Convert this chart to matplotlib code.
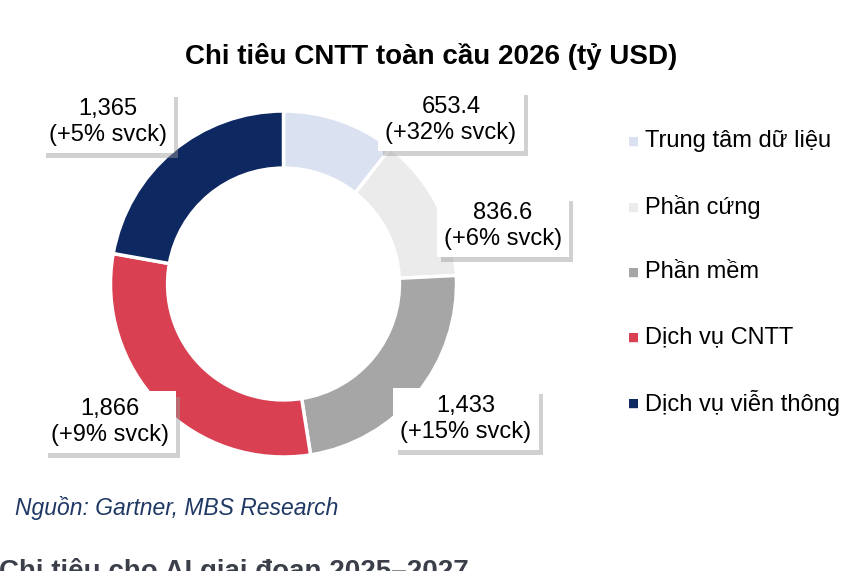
import matplotlib
matplotlib.use("Agg")
import matplotlib.pyplot as plt
from matplotlib import patheffects

plt.rcParams['font.family'] = ['Liberation Sans', 'DejaVu Sans']

categories = ["Trung tâm dữ liệu", "Phần cứng", "Phần mềm", "Dịch vụ CNTT", "Dịch vụ viễn thông"]
values = [653.4, 836.6, 1433, 1866, 1365]
value_labels = ["653.4", "836.6", "1,433", "1,866", "1,365"]
growth = ["+32%", "+6%", "+15%", "+9%", "+5%"]
colors = ["#dae1f0", "#ebebeb", "#a6a6a6", "#d94152", "#0e2862"]

# label box centres in figure pixels (from top-left)
label_pos = [(451, 120), (503, 226), (466, 419), (110, 422), (108, 122)]

W, H = 856, 571
fig = plt.figure(figsize=(W / 100, H / 100), dpi=100)

cx, cy, r = 283.5, 284, 173
ax = fig.add_axes([(cx - r) / W, (H - cy - r) / H, 2 * r / W, 2 * r / H])
wedges, _ = ax.pie(values, colors=colors, startangle=90, counterclock=False,
                   wedgeprops=dict(width=0.33, edgecolor="white", linewidth=2.5))
ax.set_xlim(-1, 1)
ax.set_ylim(-1, 1)
ax.set_aspect("equal")
ax.axis("off")

for (px, py), v, g in zip(label_pos, value_labels, growth):
    t = fig.text(px / W, 1 - py / H, f"{v}\n({g} svck)", ha="center", va="center",
                 fontsize=17, color="black", linespacing=1.2,
                 bbox=dict(boxstyle="square,pad=0.3", facecolor="white", edgecolor="none"))
    t.get_bbox_patch().set_path_effects([
        patheffects.withSimplePatchShadow(offset=(3, -4), shadow_rgbFace="#9a9a9a", alpha=0.45),
        patheffects.Normal()])

fig.text(431 / W, 1 - 56 / H, "Chi tiêu CNTT toàn cầu 2026 (tỷ USD)", ha="center", va="center",
         fontsize=20, fontweight="bold", color="black")

# legend
leg_y = [141, 207, 272, 337, 403]
for name, c, y in zip(categories, colors, leg_y):
    fig.text(634 / W, 1 - y / H, "■", ha="center", va="center", fontsize=8.5, color=c,
             family=["DejaVu Sans"])
    fig.text(645 / W, 1 - y / H, name, ha="left", va="center", fontsize=17, color="black")

fig.text(15 / W, 1 - 508 / H, "Nguồn: Gartner, MBS Research", ha="left", va="center",
         fontsize=16.5, style="italic", color="#1f3864")
fig.text(-1 / W, 1 - 579 / H, "Chi tiêu cho AI giai đoạn 2025–2027", ha="left", va="baseline",
         fontsize=20, fontweight="bold", color="#3a3f4a")

fig.savefig("out.png", dpi=100)
